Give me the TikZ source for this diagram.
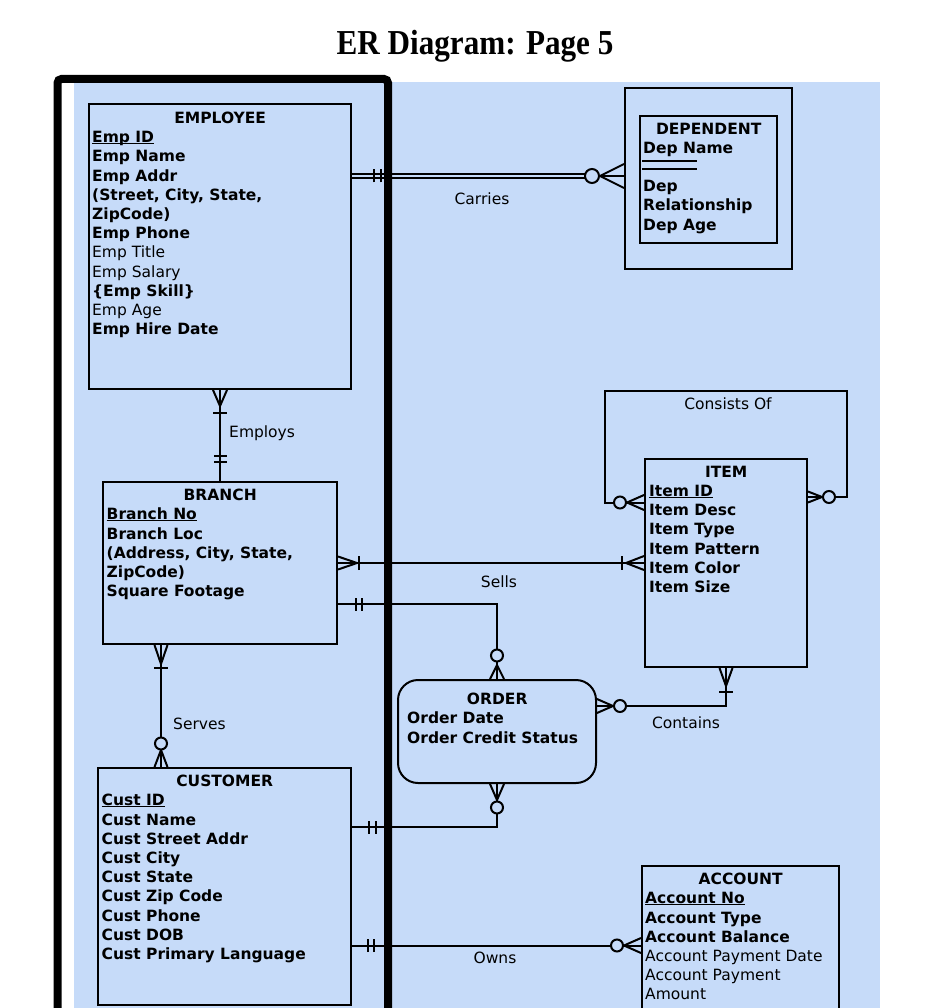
\documentclass[tikz,border=0pt]{standalone}
\usepackage{graphicx}
\usepackage{fontspec}
\setmainfont{DejaVu Sans}
\newfontfamily\titlefont{Liberation Serif}
\usetikzlibrary{calc}
\definecolor{bgblue}{RGB}{198,219,249}
\newcommand\ukey[1]{\leavevmode\setbox0\hbox{#1}\rlap{\rule[-1.6pt]{\wd0}{1.1pt}}\box0}
\newcommand\ERtwo[4]{\begin{scope}[shift={(#1)},rotate=#2]
\draw[conn] (#3pt,-6.5pt) -- (#3pt,6.5pt) (#4pt,-6.5pt) -- (#4pt,6.5pt);\end{scope}}
\newcommand\ERbar[3]{\begin{scope}[shift={(#1)},rotate=#2]
\draw[conn] (#3pt,-7pt) -- (#3pt,7pt);\end{scope}}
\newcommand\ERcrow[4]{\begin{scope}[shift={(#1)},rotate=#2]
\draw[conn] (0pt,#4pt) -- (#3pt,0pt) -- (0pt,-#4pt);\end{scope}}
\newcommand\ERcirc[4]{\begin{scope}[shift={(#1)},rotate=#2]
\filldraw[conn,fill=bgblue] (#3pt,0pt) circle[radius=#4pt];\end{scope}}
\tikzset{
  ebox/.style={draw, line width=2pt, inner sep=0pt},
  conn/.style={draw, line width=2pt, line join=miter},
  dbl/.style={line width=1.8pt, double=bgblue, double distance=2.3pt},
  etext/.style={inner sep=0pt, anchor=base west, font=\fontsize{15.5}{19.2}\selectfont},
  lbl/.style={inner sep=0pt, font=\fontsize{15.5}{19.2}\selectfont},
}
\begin{document}
\begin{tikzpicture}[x=1pt,y=-1pt]
\useasboundingbox (0,0) rectangle (948,1008);
\clip (0,0) rectangle (948,1008);
\fill[bgblue] (74,82) rectangle (880,1008);

% title
\node[inner sep=0pt, anchor=base, font=\titlefont\bfseries\fontsize{35}{40}\selectfont] (title) at (475,54.3) {\scalebox{0.89}[1]{ER Diagram: Page 5}};

% entity boxes
\node[ebox, minimum width=262pt, minimum height=285pt] (emp) at (220,246.5) {};
\node[ebox, minimum width=167pt, minimum height=181pt] (dep) at (708.5,178.5) {};
\node[ebox, minimum width=137pt, minimum height=127pt] (depin) at (708.5,179.5) {};
\node[ebox, minimum width=234pt, minimum height=162pt] (branch) at (220,563) {};
\node[ebox, minimum width=162pt, minimum height=208pt] (item) at (726,563) {};
\node[ebox, rounded corners=20pt, minimum width=198pt, minimum height=103pt] (order) at (497,731.5) {};
\node[ebox, minimum width=253pt, minimum height=237pt] (cust) at (224.5,886.5) {};
\node[ebox, minimum width=197pt, minimum height=184pt] (acc) at (740.5,958) {};

% Carries (identifying, double line)
\coordinate (carE) at ([yshift=2.5pt]dep.west);
\coordinate (carC) at ([xshift=-32pt]carE);
\draw[dbl] (emp.east |- carE) -- (carC);
\draw[conn] (carC) -- (carE);
\ERtwo{emp.east |- carE}{0}{22}{29}
\ERcrow{carE}{180}{24}{12}
\ERcirc{carE}{180}{32}{7}

% Employs
\draw[conn] (emp.south) -- (branch.north);
\ERcrow{emp.south}{-90}{16}{7}
\ERbar{emp.south}{-90}{23}
\ERtwo{branch.north}{90}{19}{25}

% Sells
\draw[conn] (branch.east) -- (item.west);
\ERcrow{branch.east}{0}{19}{6.5}
\ERbar{branch.east}{0}{21}
\ERcrow{item.west}{180}{18}{7}
\ERbar{item.west}{180}{22}

% Branch - Order
\coordinate (boS) at ([yshift=-41pt]branch.east);
\draw[conn] (boS) -| (order.north);
\ERtwo{boS}{0}{18}{24}
\ERcrow{order.north}{90}{14}{7}
\ERcirc{order.north}{90}{23.5}{6}

% Contains
\coordinate (ctS) at ([yshift=25.5pt]order.east);
\draw[conn] (ctS) -| (item.south);
\ERcrow{ctS}{0}{16}{7}
\ERcirc{ctS}{0}{23}{6}
\ERcrow{item.south}{-90}{18}{6.5}
\ERbar{item.south}{-90}{24}

% Order - Customer
\coordinate (ocE) at ([yshift=59.5pt]cust.east);
\draw[conn] (order.south) |- (ocE);
\ERcrow{order.south}{-90}{16}{7}
\ERcirc{order.south}{-90}{23.5}{6}
\ERtwo{ocE}{0}{17}{24}

% Serves
\coordinate (svB) at ([xshift=-59pt]branch.south);
\coordinate (svC) at ([xshift=-63.5pt]cust.north);
\draw[conn] (svB) -- (svC);
\ERcrow{svB}{-90}{19}{6.5}
\ERbar{svB}{-90}{23}
\ERcrow{svC}{90}{17}{6.5}
\ERcirc{svC}{90}{23.5}{6}

% Owns
\coordinate (owS) at ([yshift=-59pt]cust.east);
\coordinate (owE) at (owS -| acc.west);
\draw[conn] (owS) -- (owE);
\ERtwo{owS}{0}{16}{22}
\ERcrow{owE}{180}{17}{7.5}
\ERcirc{owE}{180}{24}{6}

% Consists Of (self loop)
\coordinate (coA) at ([yshift=60.5pt]item.west);
\coordinate (coB) at ([yshift=66pt]item.east);
\coordinate (coL) at (605,391);
\coordinate (coR) at (847,391);
\draw[conn] (coA) -| (coL) -- (coR) |- (coB);
\ERcrow{coA}{180}{17}{7.5}
\ERcirc{coA}{180}{24}{6}
\ERcrow{coB}{0}{14}{5.5}
\ERcirc{coB}{0}{21}{6}

% frame
\draw[line width=8pt, rounded corners=4pt] (57.5,1100) -- (57.5,79) -- (388,79) -- (388,1100);

% relationship labels
\node[lbl] (lCarries) at (482,199) {Carries};
\node[lbl, anchor=west] (lEmploys) at (229,433) {Employs};
\node[lbl] (lSells) at (499,582) {Sells};
\node[lbl, anchor=west] (lServes) at (173,724.3) {Serves};
\node[lbl] (lContains) at (686,722.5) {Contains};
\node[lbl] (lConsists) at (728,404) {Consists Of};
\node[lbl] (lOwns) at (495,957.7) {Owns};

% entity texts
\node[etext] (empT) at (92,123.6) {\parbox[t]{256pt}{\centering\textbf{EMPLOYEE}\par\raggedright
\ukey{\textbf{Emp ID}}\\
\textbf{Emp Name}\\
\textbf{Emp Addr}\\
\textbf{(Street, City, State,}\\
\textbf{ZipCode)}\\
\textbf{Emp Phone}\\
Emp Title\\
Emp Salary\\
\textbf{\{Emp Skill\}}\\
Emp Age\\
\textbf{Emp Hire Date}}};

\node[etext] (depT) at (643,134.2) {\parbox[t]{131pt}{\centering\textbf{DEPENDENT}\par\raggedright
\textbf{Dep Name}\\
\mbox{}\\
\textbf{Dep}\\
\textbf{Relationship}\\
\textbf{Dep Age}}};
\draw[line width=1.5pt] (642,161) -- (697,161) (642,169) -- (697,169);

\node[etext] (branchT) at (106.5,500.6) {\parbox[t]{227pt}{\centering\textbf{BRANCH}\par\raggedright
\ukey{\textbf{Branch No}}\\
\textbf{Branch Loc}\\
\textbf{(Address, City, State,}\\
\textbf{ZipCode)}\\
\textbf{Square Footage}}};

\node[etext] (itemT) at (649,477.3) {\parbox[t]{154pt}{\centering\textbf{ITEM}\par\raggedright
\ukey{\textbf{Item ID}}\\
\textbf{Item Desc}\\
\textbf{Item Type}\\
\textbf{Item Pattern}\\
\textbf{Item Color}\\
\textbf{Item Size}}};

\node[etext] (orderT) at (407,704.6) {\parbox[t]{180pt}{\centering\textbf{ORDER}\par\raggedright
\textbf{Order Date}\\
\textbf{Order Credit Status}}};

\node[etext] (custT) at (101.5,786.6) {\parbox[t]{246pt}{\centering\textbf{CUSTOMER}\par\raggedright
\ukey{\textbf{Cust ID}}\\
\textbf{Cust Name}\\
\textbf{Cust Street Addr}\\
\textbf{Cust City}\\
\textbf{Cust State}\\
\textbf{Cust Zip Code}\\
\textbf{Cust Phone}\\
\textbf{Cust DOB}\\
\textbf{Cust Primary Language}}};

\node[etext] (accT) at (645,884.6) {\parbox[t]{191pt}{\centering\textbf{ACCOUNT}\par\raggedright
\ukey{\textbf{Account No}}\\
\textbf{Account Type}\\
\textbf{Account Balance}\\
Account Payment Date\\
Account Payment\\
Amount}};
\end{tikzpicture}
\end{document}
